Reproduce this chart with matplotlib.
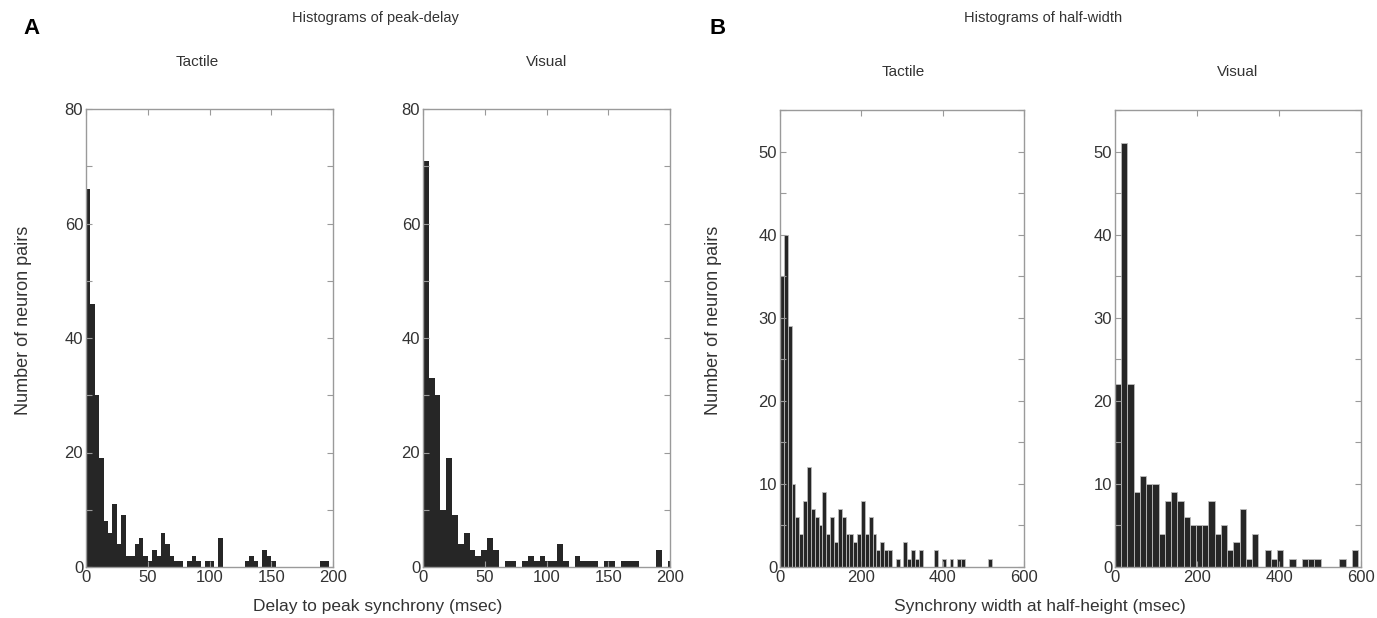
import numpy as np
import matplotlib
matplotlib.use('Agg')
import matplotlib.pyplot as plt
from matplotlib.ticker import MultipleLocator

plt.rcParams['font.family'] = ['Liberation Sans', 'DejaVu Sans']

# peak-delay histograms (counts per bin)
delay_tactile = [66, 46, 30, 19, 8, 6, 11, 4, 9, 2, 2, 4, 5, 2, 1, 3, 2, 6, 4, 2,
                 1, 1, 0, 1, 2, 1, 0, 1, 1, 0, 5, 0, 0, 0, 0, 0, 1, 2, 1, 0,
                 3, 2, 1, 0, 0, 0, 0, 0, 0, 0, 0, 0, 0, 1, 1, 0]
delay_tactile_bin = 200 / 56

delay_visual = [71, 33, 30, 10, 19, 9, 4, 6, 3, 2, 3, 5, 3, 0, 1, 1, 0, 1, 2, 1,
                2, 1, 1, 4, 1, 0, 2, 1, 1, 1, 0, 1, 1, 0, 1, 1, 1, 0, 0, 0,
                3, 0, 1]
delay_visual_bin = 4.72

# half-width histograms
width_tactile = [35, 40, 29, 10, 6, 4, 8, 12, 7, 6, 5, 9, 4, 6, 3, 7, 6, 4, 4, 3,
                 4, 8, 4, 6, 4, 2, 3, 2, 2, 0, 1, 0, 3, 1, 2, 1, 2, 0, 0, 0,
                 2, 0, 1, 0, 1, 0, 1, 1, 0, 0, 0, 0, 0, 0, 1]
width_tactile_bin = 9.48

width_visual = [22, 51, 22, 9, 11, 10, 10, 4, 8, 9, 8, 6, 5, 5, 5, 8, 4, 5, 2, 3,
                7, 1, 4, 0, 2, 1, 2, 0, 1, 0, 1, 1, 1, 0, 0, 0, 1, 0, 2]
width_visual_bin = 15.2

W, H = 1377, 618
fig = plt.figure(figsize=(W / 100, H / 100), dpi=100)

bar_col = '#262626'
txt_col = '#333333'
spine_col = '#9a9a9a'


def px_axes(left, right, top, bottom):
    return fig.add_axes([left / W, 1 - bottom / H, (right - left) / W, (bottom - top) / H])


def style(ax, xmax, ymax, xmaj, ymaj, ymin):
    ax.set_xlim(0, xmax)
    ax.set_ylim(0, ymax)
    ax.xaxis.set_major_locator(MultipleLocator(xmaj))
    ax.yaxis.set_major_locator(MultipleLocator(ymaj))
    ax.yaxis.set_minor_locator(MultipleLocator(ymin))
    ax.tick_params(which='both', direction='in', top=True, right=True,
                   colors=spine_col, labelcolor=txt_col, labelsize=12, pad=2)
    ax.tick_params(which='major', length=4, width=0.8)
    ax.tick_params(which='minor', length=4, width=0.8)
    for s in ax.spines.values():
        s.set_color(spine_col)
        s.set_linewidth(1.0)


def draw(ax, counts, binw, edge):
    x = np.arange(len(counts)) * binw
    if edge:
        ax.bar(x, counts, width=binw, align='edge', color=bar_col,
               edgecolor='#bbbbbb', linewidth=0.6)
    else:
        ax.bar(x, counts, width=binw, align='edge', color=bar_col, linewidth=0)


ax1 = px_axes(86, 333, 109, 567)
draw(ax1, delay_tactile, delay_tactile_bin, False)
style(ax1, 200, 80, 50, 20, 10)

ax2 = px_axes(423, 670, 109, 567)
draw(ax2, delay_visual, delay_visual_bin, False)
style(ax2, 200, 80, 50, 20, 10)

ax3 = px_axes(780, 1024, 110, 567)
draw(ax3, width_tactile, width_tactile_bin, True)
style(ax3, 600, 55, 200, 10, 5)

ax4 = px_axes(1115, 1361, 110, 567)
draw(ax4, width_visual, width_visual_bin, True)
style(ax4, 600, 55, 200, 10, 5)


def ftext(x, y, s, **kw):
    kw.setdefault('color', txt_col)
    kw.setdefault('fontsize', 11)
    fig.text(x / W, 1 - y / H, s, ha='center', va='center', **kw)


ftext(32, 28, 'A', fontsize=16, fontweight='bold', color='black')
ftext(718, 28, 'B', fontsize=16, fontweight='bold', color='black')
ftext(375, 18, 'Histograms of peak-delay', fontsize=10.5)
ftext(1043, 18, 'Histograms of half-width', fontsize=10.5)
ftext(197, 62, 'Tactile')
ftext(547, 62, 'Visual')
ftext(903, 72, 'Tactile')
ftext(1238, 72, 'Visual')
ftext(378, 607, 'Delay to peak synchrony (msec)', fontsize=12.5)
ftext(1040, 607, 'Synchrony width at half-height (msec)', fontsize=12.5)
ftext(24, 320, 'Number of neuron pairs', rotation=90, fontsize=13)
ftext(713, 320, 'Number of neuron pairs', rotation=90, fontsize=13)

fig.savefig('out.png', dpi=100)
